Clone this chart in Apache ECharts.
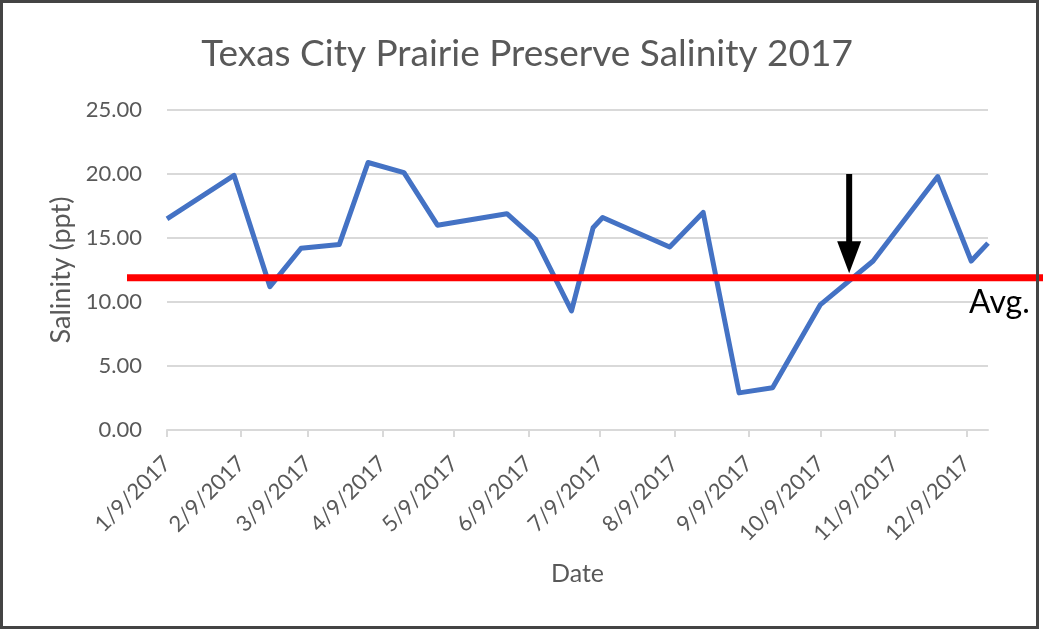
<!DOCTYPE html>
<html>
<head>
<meta charset="utf-8">
<script src="https://cdn.jsdelivr.net/npm/echarts@6/dist/echarts.min.js"></script>
<style>
    html, body { margin: 0; padding: 0; background: #fff; }
    #chart { width: 1043px; height: 631px; }
</style>
</head>
<body>
<div id="chart"></div>
<script>
// sample dates (month, day) in 2017 and salinity readings
const sampleDates = [
    [1, 9], [2, 6], [2, 21], [3, 6], [3, 22], [4, 3], [4, 18], [5, 2],
    [5, 31], [6, 12], [6, 27], [7, 6], [7, 10], [8, 7], [8, 21], [9, 5],
    [9, 19], [10, 9], [10, 31], [11, 27], [12, 11], [12, 18]
];
const salinity = [
    16.5, 19.9, 11.2, 14.2, 14.5, 20.9, 20.1, 16.0,
    16.9, 14.9, 9.3, 15.8, 16.6, 14.3, 17.0, 2.9,
    3.3, 9.8, 13.2, 19.8, 13.2, 14.6
];
// tick dates: 9th of each month
const tickMonths = [1, 2, 3, 4, 5, 6, 7, 8, 9, 10, 11, 12];
const avgSalinity = 11.9;
const arrowDate = [10, 21];
const arrowTop = 20.0;
const arrowTip = 12.25;

const FONT = 'Lato';
const GREY = '#595959';

function ts(m, d) {
    return new Date(2017, m - 1, d).getTime();
}

const seriesData = sampleDates.map((md, i) => [ts(md[0], md[1]), salinity[i]]);
const tickValues = tickMonths.map(m => ts(m, 9));

const chart = echarts.init(document.getElementById('chart'));

const option = {
    animation: false,
    backgroundColor: '#fff',
    title: {
        text: 'Texas City Prairie Preserve Salinity 2017',
        left: 522,
        top: 31,
        textAlign: 'center',
        textStyle: { fontFamily: FONT, fontSize: 37, fontWeight: 'normal', color: GREY }
    },
    grid: { left: 167, right: 55, top: 110, bottom: 201 },
    xAxis: {
        // dates kept as timestamps on a value scale so ticks can sit on the 9th
        type: 'value',
        min: ts(1, 9),
        max: ts(12, 18),
        name: 'Date',
        nameLocation: 'middle',
        nameGap: 131,
        nameTextStyle: { fontFamily: FONT, fontSize: 25, color: GREY },
        axisLine: { lineStyle: { color: '#d9d9d9', width: 2 } },
        axisTick: { show: true, customValues: tickValues, length: 7, lineStyle: { color: '#d9d9d9', width: 2 } },
        axisLabel: {
            customValues: tickValues,
            rotate: 45,
            margin: 30,
            fontFamily: FONT,
            fontSize: 22,
            color: GREY,
            formatter: function (v) {
                const d = new Date(v);
                return (d.getMonth() + 1) + '/' + d.getDate() + '/' + d.getFullYear();
            }
        },
        splitLine: { show: false }
    },
    yAxis: {
        type: 'value',
        min: 0,
        max: 25,
        interval: 5,
        name: 'Salinity (ppt)',
        nameLocation: 'middle',
        nameGap: 72,
        nameTextStyle: { fontFamily: FONT, fontSize: 27, color: GREY },
        axisLine: { show: false },
        axisTick: { show: false },
        axisLabel: {
            margin: 25,
            fontFamily: FONT,
            fontSize: 22,
            color: GREY,
            formatter: v => v.toFixed(2)
        },
        splitLine: { lineStyle: { color: '#d9d9d9', width: 2 } }
    },
    series: [{
        type: 'line',
        data: seriesData,
        showSymbol: false,
        lineStyle: { color: '#4472C4', width: 5, join: 'round' },
        z: 3
    }]
};

chart.setOption(option);

// average line, arrow and frame placed with the chart's own scales
const yAvg = chart.convertToPixel({ yAxisIndex: 0 }, avgSalinity);
const arrowX = chart.convertToPixel({ xAxisIndex: 0 }, ts(arrowDate[0], arrowDate[1]));
const yTop = chart.convertToPixel({ yAxisIndex: 0 }, arrowTop);
const yTip = chart.convertToPixel({ yAxisIndex: 0 }, arrowTip);

chart.setOption({
    graphic: [
        {
            type: 'line',
            shape: { x1: 127, y1: yAvg, x2: 1043, y2: yAvg },
            style: { stroke: '#ff0000', lineWidth: 7 },
            z: 10
        },
        {
            type: 'line',
            shape: { x1: arrowX, y1: yTop, x2: arrowX, y2: yTip - 28 },
            style: { stroke: '#000', lineWidth: 6 },
            z: 11
        },
        {
            type: 'polygon',
            shape: { points: [[arrowX - 12, yTip - 32], [arrowX + 12, yTip - 32], [arrowX, yTip]] },
            style: { fill: '#000' },
            z: 11
        },
        {
            type: 'text',
            left: 969,
            top: 287,
            style: { text: 'Avg.', fontFamily: FONT, fontSize: 32, fill: '#000' },
            z: 11
        },
        {
            type: 'rect',
            shape: { x: 1.5, y: 1.5, width: 1036, height: 626 },
            style: { fill: 'none', stroke: '#444', lineWidth: 3 },
            z: 12
        }
    ]
});
</script>
</body>
</html>
